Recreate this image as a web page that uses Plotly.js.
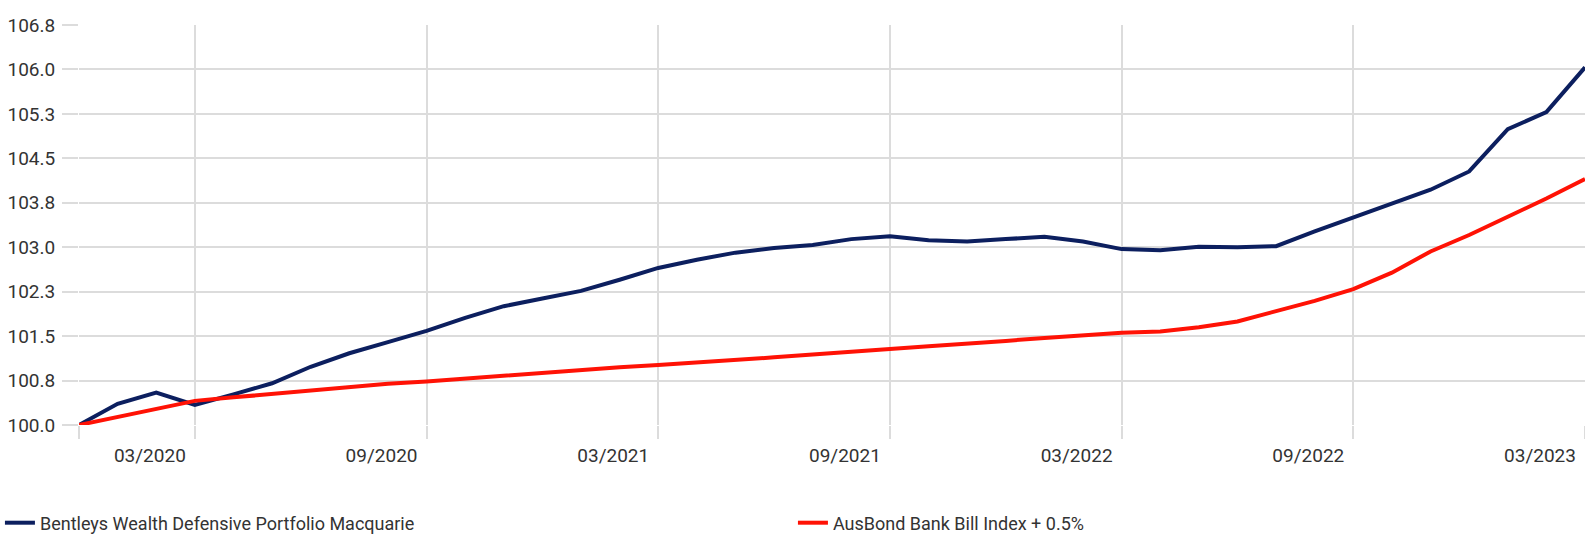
<!DOCTYPE html>
<html>
<head>
<meta charset="utf-8">
<script src="https://cdn.plot.ly/plotly-3.0.1.min.js"></script>
<style>
html,body{margin:0;padding:0;background:#fff;}
#chart{width:1585px;height:536px;}
</style>
</head>
<body>
<div id="chart"></div>
<script>
const months = ["12/2019","01/2020","02/2020","03/2020","04/2020","05/2020","06/2020","07/2020","08/2020","09/2020","10/2020","11/2020","12/2020","01/2021","02/2021","03/2021","04/2021","05/2021","06/2021","07/2021","08/2021","09/2021","10/2021","11/2021","12/2021","01/2022","02/2022","03/2022","04/2022","05/2022","06/2022","07/2022","08/2022","09/2022","10/2022","11/2022","12/2022","01/2023","02/2023","03/2023"];

const portfolioName = "Bentleys Wealth Defensive Portfolio Macquarie";
const portfolio = [100.00,100.36,100.55,100.34,100.52,100.71,100.99,101.22,101.41,101.60,101.82,102.02,102.15,102.28,102.47,102.67,102.81,102.93,103.01,103.06,103.16,103.21,103.14,103.12,103.16,103.20,103.12,102.99,102.97,103.03,103.02,103.04,103.29,103.53,103.77,104.00,104.31,105.03,105.32,106.08];

const benchmarkName = "AusBond Bank Bill Index + 0.5%";
const benchmark = [100.00,100.14,100.27,100.41,100.47,100.53,100.59,100.65,100.70,100.74,100.79,100.84,100.88,100.93,100.98,101.02,101.06,101.11,101.15,101.20,101.24,101.29,101.34,101.38,101.43,101.48,101.52,101.57,101.59,101.66,101.76,101.93,102.11,102.31,102.59,102.95,103.23,103.54,103.85,104.18];

const xTickVals = ["12/2019","03/2020","09/2020","03/2021","09/2021","03/2022","09/2022","03/2023"];
const xTickText = ["","03/2020","09/2020","03/2021","09/2021","03/2022","09/2022","03/2023"];

const yTickText = ["100.0","100.8","101.5","102.3","103.0","103.8","104.5","105.3","106.0","106.8"];
const yMin = 100, yMax = 106.8;
const yTickVals = yTickText.map((t, k) => yMin + k * (yMax - yMin) / (yTickText.length - 1));

const FONT = "Roboto, 'Liberation Sans', sans-serif";

const traces = [
  {x: months, y: portfolio, name: portfolioName, type: "scatter", mode: "lines",
   line: {color: "#0c1f5f", width: 4}},
  {x: months, y: benchmark, name: benchmarkName, type: "scatter", mode: "lines",
   line: {color: "#ff1205", width: 4}}
];

const layout = {
  width: 1585, height: 536,
  margin: {l: 79, r: 0, t: 25, b: 111, autoexpand: false},
  paper_bgcolor: "#fff", plot_bgcolor: "#fff",
  font: {family: FONT, size: 19, color: "#333"},
  showlegend: true,
  legend: {
    orientation: "h", xref: "paper", yref: "paper",
    x: -0.0525, y: -0.245, xanchor: "left", yanchor: "middle",
    entrywidth: 748, entrywidthmode: "pixels",
    font: {family: FONT, size: 18, color: "#333"},
    itemwidth: 30, tracegroupgap: 0, borderwidth: 0, bgcolor: "rgba(0,0,0,0)"
  },
  xaxis: {
    type: "category", range: [0, months.length - 1],
    tickmode: "array", tickvals: xTickVals, ticktext: xTickText,
    showgrid: true, gridcolor: "#dcdcdc", gridwidth: 2,
    ticks: "outside", ticklen: 13, tickcolor: "#dcdcdc", tickwidth: 2,
    ticklabelshift: -45, ticklabelstandoff: 0,
    showline: false, zeroline: false,
    tickfont: {family: FONT, size: 19, color: "#333"}
  },
  yaxis: {
    range: [yMin, yMax],
    tickmode: "array", tickvals: yTickVals, ticktext: yTickText,
    showgrid: true, gridcolor: "#dcdcdc", gridwidth: 2,
    ticks: "outside", ticklen: 16, tickcolor: "#dcdcdc", tickwidth: 2,
    ticklabelstandoff: 3,
    showline: false, zeroline: false,
    tickfont: {family: FONT, size: 19, color: "#333"}
  }
};

Plotly.newPlot("chart", traces, layout, {staticPlot: true, displayModeBar: false});
</script>
</body>
</html>
